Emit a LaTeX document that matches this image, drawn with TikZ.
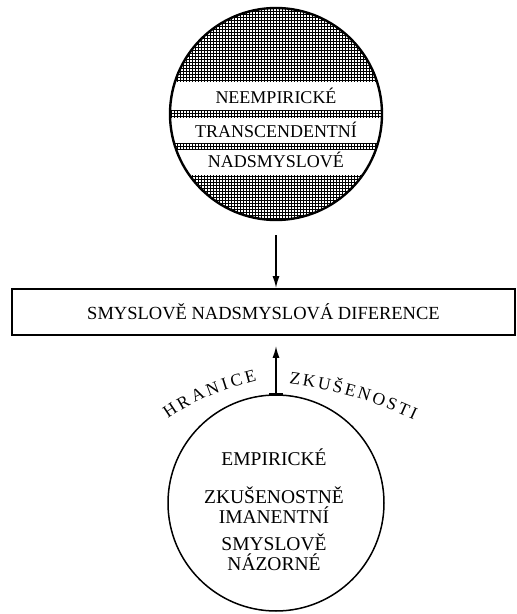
\documentclass[tikz,border=0pt]{standalone}
\usepackage{fontspec}
\setmainfont{Liberation Serif}
\usetikzlibrary{arrows.meta,decorations.text}
\newcommand{\oblpismo}{\fontsize{17.5}{17.5}\selectfont}

\begin{document}
\begin{tikzpicture}[x=1pt,y=1pt,
	kruh/.style={circle,draw,minimum size=#1,inner sep=0pt},
	pojem/.style={font=\fontsize{18}{18}\selectfont,anchor=base},
	dolni/.style={font=\fontsize{19.5}{20}\selectfont,align=center},
	sipka/.style={line width=1.6pt,-{Latex[length=12pt,width=7pt]}},
	oblouk/.style={decorate,decoration={text along path,text align={fit to path},text={#1}}}]
	\useasboundingbox (0,0) rectangle (517,614);
	% horni kruh se srafou a pruhy (souradnice od stredu)
	\node[kruh=212pt,line width=2.4pt,path picture={
		\foreach \k in {-108,-105,...,108}
			\draw[line width=1pt] (-110,\k) -- (110,\k);
		\foreach \k in {-108,-105,...,108}
			\draw[line width=1pt] (\k,-110) -- (\k,110);
		\fill[white] (-110,32) rectangle (110,4);
		\fill[white] (-110,-4) rectangle (110,-29);
		\fill[white] (-110,-36) rectangle (110,-61);
	}] (nadsm) at (276,500) {};
	\node[pojem] (neemp) at (276,510) {NEEMPIRICKÉ};
	\node[pojem] (transc) at (276,476) {TRANSCENDENTNÍ};
	\node[pojem] (nadsmysl) at (276,446) {NADSMYSLOVÉ};
	% diference
	\node[draw,line width=1.8pt,minimum width=503pt,minimum height=46pt,inner sep=0pt,
		font=\fontsize{18.5}{20}\selectfont] (dif) at (263.5,302) {SMYSLOVĚ NADSMYSLOVÁ DIFERENCE};
	% dolni kruh
	\node[kruh=216pt,line width=1.5pt] (zkus) at (276,111) {};
	\node[dolni,anchor=base] (empir) at (274,148) {EMPIRICKÉ};
	\node[dolni] (imanent) at (274,109) {ZKUŠENOSTNĚ\\IMANENTNÍ};
	\node[dolni] (nazor) at (274,61.5) {SMYSLOVĚ\\NÁZORNÉ};
	\draw[line width=1.6pt] ([xshift=-7pt]zkus.north) -- ([xshift=7pt]zkus.north);
	% sipky
	\draw[sipka,shorten <=14pt] (nadsm.south) -- (nadsm.south |- dif.north);
	\draw[sipka,shorten >=10pt] (zkus.north) -- (zkus.north |- dif.south);
	% hranice zkusenosti
	\path[oblouk={|\oblpismo|HRANICE}] (168,195) to[out=35,in=195] (257,233);
	\path[oblouk={|\oblpismo|ZKUŠENOSTI}] (289,230) to[out=-8,in=155] (414,194);
\end{tikzpicture}
\end{document}
